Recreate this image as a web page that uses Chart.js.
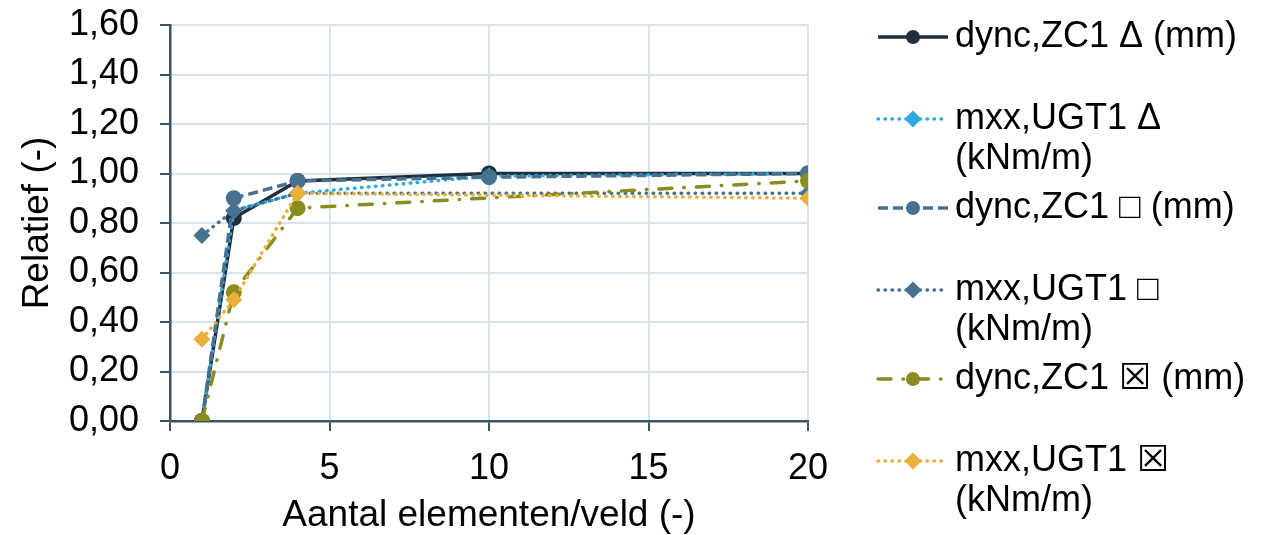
<!DOCTYPE html>
<html>
<head>
<meta charset="utf-8">
<script src="https://cdn.jsdelivr.net/npm/chart.js@4"></script>
<style>
  body { margin: 0; background: #fff; }
  #wrap { width: 1276px; height: 535px; }
</style>
</head>
<body>
<div id="wrap"><canvas id="chart"></canvas></div>
<script>
// data
const seriesNames = [
  'dync,ZC1 \u0394 (mm)',
  'mxx,UGT1 \u0394 (kNm/m)',
  'dync,ZC1 \u25A1 (mm)',
  'mxx,UGT1 \u25A1 (kNm/m)',
  'dync,ZC1 \u2612 (mm)',
  'mxx,UGT1 \u2612 (kNm/m)'
];
const xFull = [1, 2, 4, 10, 20];
const xShort = [1, 2, 4, 20];
const dyncDelta = [0, 0.82, 0.97, 1.00, 1.00];
const mxxDelta = [0, 0.85, 0.92, 0.99, 1.00];
const dyncSquare = [0, 0.90, 0.97, 0.985, 1.00];
const mxxSquare = [0.75, 0.85, 0.92, 0.92];
const dyncCross = [0, 0.52, 0.86, 0.97];
const mxxCross = [0.33, 0.49, 0.92, 0.90];

const FONT = "'Liberation Sans', 'DejaVu Sans', Arial, sans-serif";
const FS = 36;
const axisColor = '#3b5366';
const gridColor = '#d9e3eb';

function pts(xs, ys) {
  return xs.map((x, i) => ({ x: x, y: ys[i] }));
}

const styles = [
  { color: '#1f2f3d', dash: [], cap: 'butt', width: 3.5, point: 'circle', r: 8 },
  { color: '#2eabe0', dash: [0.5, 6.5], cap: 'round', width: 3.5, point: 'rectRot', r: 8.5 },
  { color: '#46728f', dash: [10, 5], cap: 'butt', width: 3.5, point: 'circle', r: 8 },
  { color: '#46728f', dash: [0.5, 6.5], cap: 'round', width: 3.5, point: 'rectRot', r: 8.5 },
  { color: '#8b8c1f', dash: [13, 12, 0.5, 12], cap: 'round', width: 3.5, point: 'circle', r: 8 },
  { color: '#ebb03a', dash: [0.5, 6.5], cap: 'round', width: 3.5, point: 'rectRot', r: 8.5 }
];
const seriesData = [
  pts(xFull, dyncDelta),
  pts(xFull, mxxDelta),
  pts(xFull, dyncSquare),
  pts(xShort, mxxSquare),
  pts(xShort, dyncCross),
  pts(xShort, mxxCross)
];

const datasets = seriesNames.map((name, i) => ({
  label: name,
  data: seriesData[i],
  borderColor: styles[i].color,
  backgroundColor: styles[i].color,
  borderWidth: styles[i].width,
  borderDash: styles[i].dash,
  borderCapStyle: styles[i].cap,
  pointStyle: styles[i].point,
  pointRadius: styles[i].r,
  pointBorderWidth: 0,
  pointBackgroundColor: styles[i].color,
  tension: 0,
  order: seriesNames.length - i
}));

// legend on the right, text wrapped like the original
const sideLegend = {
  id: 'sideLegend',
  afterDraw(chart) {
    const ctx = chart.ctx;
    const x0 = 878, x1 = 948, tx = 955, maxW = 316, lineH = 40;
    let y = 37;
    ctx.save();
    ctx.font = FS + 'px ' + FONT;
    ctx.textBaseline = 'middle';
    ctx.fillStyle = '#000';
    chart.data.datasets.forEach((ds, i) => {
      const st = styles[i];
      const words = ds.label.split(' ');
      const lines = [];
      let cur = '';
      words.forEach(w => {
        const test = cur ? cur + ' ' + w : w;
        if (ctx.measureText(test).width > maxW && cur) {
          lines.push(cur);
          cur = w;
        } else {
          cur = test;
        }
      });
      lines.push(cur);
      // sample line
      ctx.beginPath();
      ctx.strokeStyle = st.color;
      ctx.lineWidth = st.width;
      ctx.lineCap = st.cap;
      ctx.setLineDash(st.dash);
      ctx.moveTo(x0, y);
      ctx.lineTo(x1, y);
      ctx.stroke();
      ctx.setLineDash([]);
      // marker
      const mx = (x0 + x1) / 2;
      ctx.fillStyle = st.color;
      ctx.beginPath();
      if (st.point === 'circle') {
        ctx.arc(mx, y, st.r - 1, 0, Math.PI * 2);
      } else {
        ctx.moveTo(mx - st.r, y);
        ctx.lineTo(mx, y - st.r);
        ctx.lineTo(mx + st.r, y);
        ctx.lineTo(mx, y + st.r);
        ctx.closePath();
      }
      ctx.fill();
      ctx.fillStyle = '#000';
      lines.forEach((ln, k) => ctx.fillText(ln, tx, y + k * lineH));
      y += lines.length > 1 ? 89 : 82;
    });
    ctx.restore();
  }
};

new Chart(document.getElementById('chart'), {
  type: 'line',
  data: { datasets: datasets },
  plugins: [sideLegend],
  options: {
    responsive: true,
    maintainAspectRatio: false,
    animation: false,
    layout: { padding: { top: 0, right: 468, left: 0, bottom: 0 } },
    plugins: {
      legend: { display: false },
      tooltip: { enabled: false }
    },
    scales: {
      x: {
        type: 'linear',
        min: 0,
        max: 20,
        afterFit: s => { s.height = 114; },
        ticks: {
          stepSize: 5,
          color: '#000',
          font: { family: FONT, size: FS },
          padding: 16,
          maxRotation: 0
        },
        grid: {
          color: gridColor,
          lineWidth: 2,
          tickColor: axisColor,
          tickLength: 10,
          drawTicks: true
        },
        border: { color: axisColor, width: 2.5 },
        title: {
          display: true,
          text: 'Aantal elementen/veld (-)',
          color: '#000',
          font: { family: FONT, size: 37 },
          padding: { top: 0, bottom: -3 }
        }
      },
      y: {
        min: 0,
        max: 1.6,
        afterFit: s => { s.width = 170; s.paddingTop = 25; s.paddingBottom = 0; },
        ticks: {
          stepSize: 0.2,
          autoSkip: false,
          color: '#000',
          font: { family: FONT, size: FS },
          padding: 21,
          callback: v => v.toFixed(2).replace('.', ',')
        },
        grid: {
          color: gridColor,
          lineWidth: 2,
          tickColor: axisColor,
          tickLength: 10
        },
        border: { color: axisColor, width: 2.5 },
        title: {
          display: true,
          text: 'Relatief (-)',
          color: '#000',
          font: { family: FONT, size: 37 },
          padding: { top: 16, bottom: 0 }
        }
      }
    }
  }
});
</script>
</body>
</html>
